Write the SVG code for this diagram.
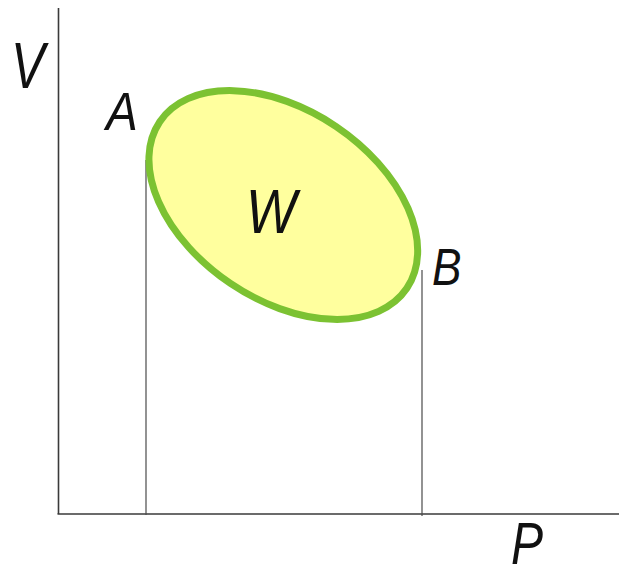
<svg xmlns="http://www.w3.org/2000/svg" width="619" height="570" viewBox="0 0 619 570">
<style>
.axis{stroke:#3a3a3a;stroke-width:1.6;fill:none}
.drop{stroke:#4a4a4a;stroke-width:1.2;fill:none}
.lbl{font-family:"Liberation Sans",Arial,sans-serif;font-style:italic;fill:#111}
</style>
<rect width="619" height="570" fill="#ffffff"/>
<g id="connectors">
<line class="axis" x1="58.5" y1="8" x2="58.5" y2="514"/>
<line class="axis" x1="57.5" y1="514" x2="619" y2="514"/>
<line class="drop" x1="146" y1="160" x2="146" y2="515"/>
<line class="drop" x1="422" y1="270" x2="422" y2="516"/>
</g>
<g id="cycle">
<ellipse cx="283.3" cy="205" rx="149" ry="94.6" transform="rotate(34 283.3 205)" fill="#ffff9e" stroke="#7cc232" stroke-width="7"/>
</g>
<g id="label-V"><text class="lbl" transform="translate(11,88) scale(0.78,1)" font-size="65">V</text></g>
<g id="label-A"><text class="lbl" transform="translate(106,130) scale(0.9,1)" font-size="53">A</text></g>
<g id="label-W"><text class="lbl" transform="translate(246,233) scale(0.85,1)" font-size="63">W</text></g>
<g id="label-B"><text class="lbl" transform="translate(432,285) scale(0.85,1)" font-size="52">B</text></g>
<g id="label-P"><text class="lbl" transform="translate(511,564) scale(0.8,1)" font-size="60">P</text></g>
</svg>
